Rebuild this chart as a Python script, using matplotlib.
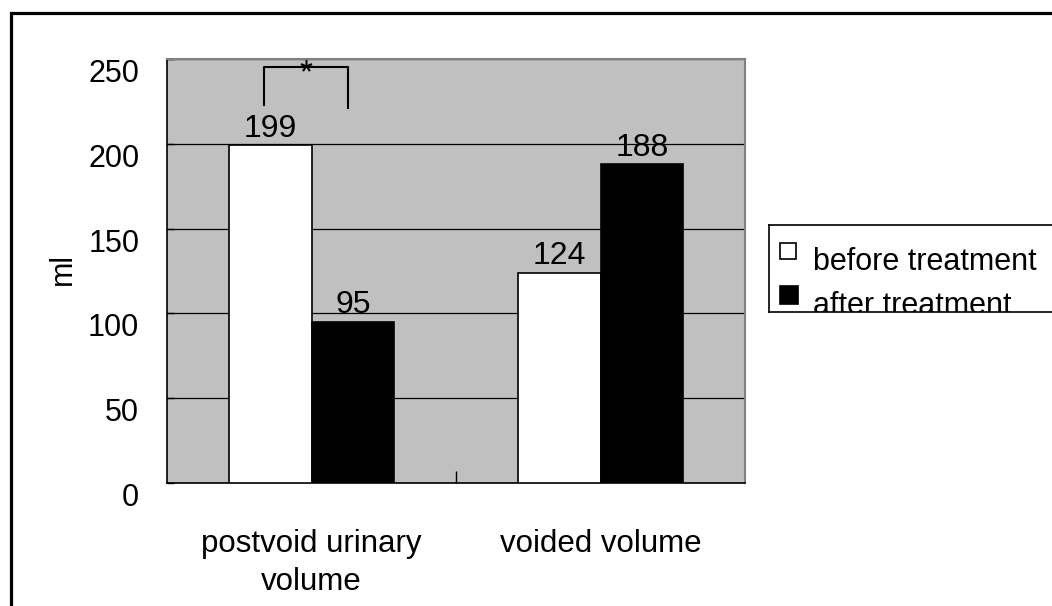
import matplotlib.pyplot as plt
import numpy as np
from matplotlib.patches import Rectangle

categories = ["postvoid urinary\nvolume", "voided volume"]
before = [199, 124]
after = [95, 188]
series_names = ["before treatment", "after treatment"]
yticks = [0, 50, 100, 150, 200, 250]

# significance bracket (data units)
sig_top = 245.5
sig_left_bottom = 223
sig_right_bottom = 221

plt.rcParams['font.family'] = ['Liberation Sans', 'DejaVu Sans']

W, H = 1052, 606
fig = plt.figure(figsize=(W / 100, H / 100), dpi=100)
fig.patch.set_facecolor('white')

# outer frame of the figure (runs off right and bottom)
fig.patches.append(Rectangle((11 / W, -0.1), 1.2, 1 - 13 / H + 0.1,
                             transform=fig.transFigure, fill=False,
                             edgecolor='black', lw=2.3, zorder=0))

ax = fig.add_axes([167 / W, 1 - 483 / H, (745 - 167) / W, (483 - 59) / H])
ax.set_facecolor('#c0c0c0')

x = np.arange(len(categories))
w = 1 / 3.5
b1 = ax.bar(x - w / 2, before, w, color='white', edgecolor='black', lw=1.2, zorder=3)
b2 = ax.bar(x + w / 2, after, w, color='black', edgecolor='black', lw=1.2, zorder=3)
ax.bar_label(b1, padding=1, fontsize=23)
ax.bar_label(b2, padding=1, fontsize=23)

ax.set_xlim(-0.5, len(categories) - 0.5)
ax.set_ylim(0, 250)
ax.set_yticks(yticks)
ax.yaxis.grid(True, color='black', lw=0.9, zorder=1)
ax.set_axisbelow(True)
ax.tick_params(axis='y', direction='in', length=5, width=1, pad=20, labelsize=22)
for lab in ax.get_yticklabels():
    lab.set_verticalalignment('top')

ax.set_xticks([0.5], minor=True)
ax.set_xticks(x)
ax.set_xticklabels(categories, fontsize=22.5, linespacing=1.35)
ax.tick_params(axis='x', which='major', length=0, pad=33)
ax.tick_params(axis='x', which='minor', direction='in', length=9, width=1)

for s in ['top', 'right']:
    ax.spines[s].set_color('#808080')
    ax.spines[s].set_linewidth(1.5)
for s in ['left', 'bottom']:
    ax.spines[s].set_color('black')
    ax.spines[s].set_linewidth(1.2)

# significance bracket between the first pair
xl = x[0] - w / 2 - 0.02
xr = x[0] + w / 2 - 0.015
ax.plot([xl, xl, xr, xr], [sig_left_bottom, sig_top, sig_top, sig_right_bottom],
        color='black', lw=1.5, zorder=4)
ax.text((xl + xr) / 2, sig_top - 4, '*', ha='center', va='center', fontsize=24, zorder=5)

fig.text(63 / W, 1 - 269 / H, 'ml', rotation=90, ha='center', va='center', fontsize=22)

# legend box, clipped like the original
lg = fig.add_axes([769 / W, 1 - 312 / H, 400 / W, (312 - 225) / H])
lg.set_xlim(0, 400)
lg.set_ylim(87, 0)
lg.set_xticks([])
lg.set_yticks([])
for s in lg.spines.values():
    s.set_color('black')
    s.set_linewidth(1.2)
lg.plot([19], [26], marker='s', ms=12, mfc='white', mec='black', mew=1.2, clip_on=True)
lg.plot([20], [70], marker='s', ms=13.5, mfc='black', mec='black', mew=1.2, clip_on=True)
lg.text(44, 45, series_names[0], fontsize=22, va='baseline', clip_on=True)
lg.text(44, 89, series_names[1], fontsize=22, va='baseline', clip_on=True)

fig.savefig('out.png', dpi=100)
